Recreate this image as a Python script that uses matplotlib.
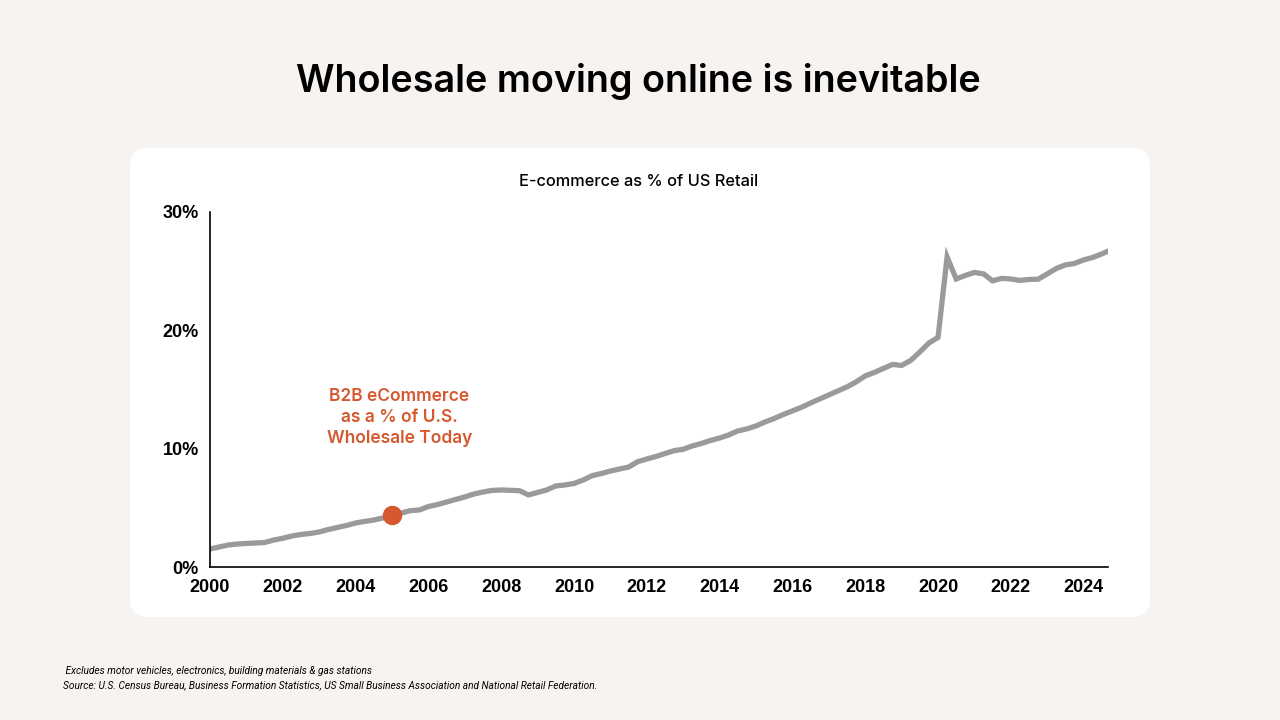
import matplotlib
matplotlib.use("Agg")
import matplotlib.pyplot as plt
from matplotlib.patches import FancyBboxPatch
import numpy as np

# ---- data (quarterly, 2000 Q1 .. 2024 Q4) ----
start_year = 2000
ecom_share = [
    1.52, 1.69, 1.86, 1.94, 1.99, 2.03, 2.07, 2.28, 2.43, 2.62,
    2.75, 2.83, 2.96, 3.17, 3.34, 3.51, 3.72, 3.85, 3.97, 4.14,
    4.40, 4.56, 4.76, 4.82, 5.11, 5.28, 5.49, 5.71, 5.92, 6.17,
    6.34, 6.47, 6.51, 6.48, 6.45, 6.09, 6.30, 6.51, 6.85, 6.93,
    7.06, 7.35, 7.72, 7.90, 8.11, 8.28, 8.45, 8.90, 9.13, 9.34,
    9.59, 9.83, 9.95, 10.23, 10.44, 10.69, 10.90, 11.16, 11.50, 11.67,
    11.92, 12.26, 12.55, 12.89, 13.19, 13.50, 13.86, 14.20, 14.54, 14.88,
    15.22, 15.64, 16.15, 16.44, 16.78, 17.12, 17.03, 17.46, 18.17, 18.93,
    19.40, 26.20, 24.34, 24.64, 24.89, 24.77, 24.18, 24.39, 24.34, 24.22,
    24.30, 24.32, 24.77, 25.23, 25.53, 25.65, 25.95, 26.16, 26.46, 26.80,
]
years = [start_year + i / 4 for i in range(len(ecom_share))]
b2b_year = 2005.0
b2b_value = 4.40
x_ticks = [2000, 2002, 2004, 2006, 2008, 2010, 2012, 2014, 2016, 2018, 2020, 2022, 2024]
y_ticks = [0, 10, 20, 30]
y_tick_labels = ["0%", "10%", "20%", "30%"]

title = "Wholesale moving online is inevitable"
chart_title = "E-commerce as % of US Retail"
annotation = "B2B eCommerce\nas a % of U.S.\nWholesale Today"
foot1 = " Excludes motor vehicles, electronics, building materials & gas stations"
foot2 = "Source: U.S. Census Bureau, Business Formation Statistics, US Small Business Association and National Retail Federation."

BG = "#f7f3f0"
ORANGE = "#d5582f"
GRAY = "#9a9a9a"

fig = plt.figure(figsize=(12.8, 7.2), dpi=100)
fig.patch.set_facecolor(BG)

# white card
card = FancyBboxPatch((1.30, 1.03), 10.2, 4.69,
                      boxstyle="round,pad=0,rounding_size=0.18",
                      transform=fig.dpi_scale_trans, facecolor="white",
                      edgecolor="none", zorder=-5)
fig.patches.append(card)

fig.text(638 / 1280, (720 - 81) / 720, title, ha="center", va="center",
         fontsize=27.2, fontweight="semibold", family=["Inter", "DejaVu Sans"], color="black")
fig.text(639 / 1280, (720 - 182) / 720, chart_title, ha="center", va="center",
         fontsize=11.8, fontweight="medium", family=["Inter", "DejaVu Sans"], color="black")

ax = fig.add_axes([210 / 1280, (720 - 567) / 720, (1108 - 210) / 1280, (567 - 212) / 720])
ax.set_zorder(2)
ax.set_facecolor("none")
ax.plot(years, ecom_share, color=GRAY, lw=3.8, solid_joinstyle="miter", zorder=2)
ax.plot([b2b_year], [b2b_value], "o", color=ORANGE, ms=13, zorder=3)
ax.text(2005.2, 12.65, annotation, ha="center", va="center", color=ORANGE,
        fontsize=12.5, fontweight="semibold", family=["Inter", "DejaVu Sans"],
        linespacing=1.3)

ax.set_xlim(2000, 2024.67)
ax.set_ylim(0, 30)
ax.set_xticks(x_ticks)
ax.set_yticks(y_ticks)
ax.set_yticklabels(y_tick_labels)
for s in ["top", "right"]:
    ax.spines[s].set_visible(False)
for s in ["left", "bottom"]:
    ax.spines[s].set_color("black")
    ax.spines[s].set_linewidth(1.2)
ax.tick_params(axis="both", length=0, labelsize=13)
ax.tick_params(axis="x", pad=9)
ax.tick_params(axis="y", pad=8)
for lab in ax.get_xticklabels() + ax.get_yticklabels():
    lab.set_fontweight("bold")
    lab.set_family(["Liberation Sans", "DejaVu Sans"])

fig.text(63 / 1280, (720 - 671) / 720, foot1, ha="left", va="center",
         fontsize=7.3, style="italic", family=["Roboto", "DejaVu Sans"], color="black")
fig.text(63 / 1280, (720 - 685) / 720, foot2, ha="left", va="center",
         fontsize=7.3, style="italic", family=["Roboto", "DejaVu Sans"], color="black")

fig.savefig("out.png", dpi=100, facecolor=BG)
